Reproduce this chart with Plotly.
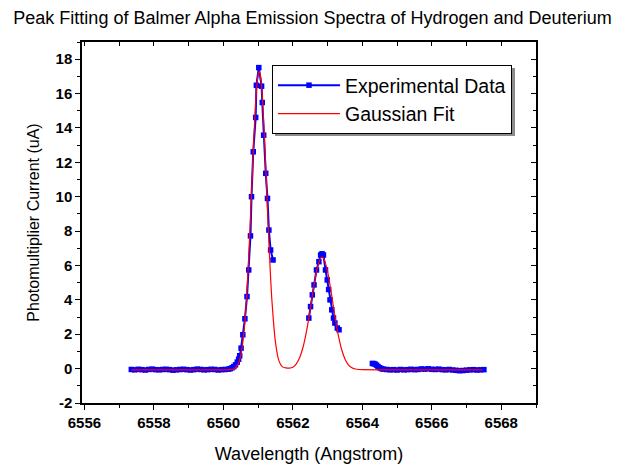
import plotly.graph_objects as go

# ---------------- data ----------------
# Experimental data, three measured segments (gaps between them)
exp_x1 = [6557.35, 6557.45, 6557.55, 6557.65, 6557.75, 6557.85, 6557.95, 6558.05, 6558.15, 6558.25,
          6558.35, 6558.45, 6558.55, 6558.65, 6558.75, 6558.85, 6558.95, 6559.05, 6559.15, 6559.25,
          6559.35, 6559.45, 6559.55, 6559.65, 6559.75, 6559.85, 6559.95, 6560.05, 6560.15,
          6560.20, 6560.25, 6560.30, 6560.35, 6560.40, 6560.44, 6560.47, 6560.51, 6560.56, 6560.62,
          6560.68, 6560.73, 6560.78, 6560.81, 6560.86, 6560.93, 6560.95, 6561.02, 6561.10, 6561.12,
          6561.16, 6561.22, 6561.27, 6561.31, 6561.36, 6561.43]
exp_y1 = [-0.05, -0.07, -0.04, -0.06, -0.08, -0.05, -0.03, -0.06, -0.07, -0.05,
          -0.04, -0.06, -0.09, -0.07, -0.05, -0.04, -0.06, -0.08, -0.06, -0.03,
          -0.05, -0.07, -0.06, -0.04, -0.05, -0.08, -0.06, -0.05, -0.03,
          0.00, 0.05, 0.12, 0.22, 0.38, 0.55, 0.75, 1.19, 1.97, 2.90,
          4.19, 5.74, 7.72, 10.00, 12.61, 14.61, 16.48, 17.51, 16.43, 15.48,
          13.58, 11.36, 9.90, 8.06, 6.90, 6.32]

exp_x2 = [6562.46, 6562.51, 6562.56, 6562.61, 6562.68, 6562.75, 6562.80, 6562.84, 6562.88, 6562.94,
          6562.99, 6563.03, 6563.07, 6563.12, 6563.17, 6563.21, 6563.28, 6563.33]
exp_y2 = [2.94, 3.61, 4.29, 4.87, 5.74, 6.22, 6.61, 6.68, 6.61, 5.74,
          5.16, 4.60, 4.00, 3.42, 2.94, 2.65, 2.36, 2.26]

exp_x3 = [6564.29, 6564.33, 6564.37, 6564.41, 6564.45, 6564.50, 6564.55, 6564.60,
          6564.70, 6564.80, 6564.90, 6565.00, 6565.10, 6565.20, 6565.30, 6565.40, 6565.50, 6565.60,
          6565.70, 6565.80, 6565.90, 6566.00, 6566.10, 6566.20, 6566.30, 6566.40, 6566.50, 6566.60,
          6566.70, 6566.80, 6566.90, 6567.00, 6567.10, 6567.20, 6567.30, 6567.40, 6567.50]
exp_y3 = [0.30, 0.29, 0.26, 0.20, 0.12, 0.05, 0.00, -0.03,
          -0.05, -0.07, -0.06, -0.08, -0.05, -0.07, -0.06, -0.04, -0.06, -0.05,
          -0.02, -0.03, -0.01, -0.04, -0.05, -0.03, -0.06, -0.07, -0.05, -0.08,
          -0.10, -0.12, -0.11, -0.09, -0.07, -0.06, -0.08, -0.07, -0.06]

# Gaussian fit curve
fit_x = [6557.35, 6558.50, 6559.50, 6560.00, 6560.10, 6560.20, 6560.30, 6560.40, 6560.50, 6560.60,
         6560.70, 6560.80, 6560.85, 6560.90, 6560.95, 6561.00, 6561.03, 6561.06, 6561.10, 6561.15,
         6561.20, 6561.25, 6561.30, 6561.35, 6561.40, 6561.50, 6561.60, 6561.70, 6561.80, 6561.90,
         6562.00, 6562.10, 6562.20, 6562.30, 6562.40, 6562.50, 6562.60, 6562.70, 6562.80, 6562.84,
         6562.90, 6563.00, 6563.10, 6563.20, 6563.30, 6563.40, 6563.50, 6563.60, 6563.70, 6563.80,
         6563.90, 6564.00, 6565.00, 6566.00, 6567.46]
fit_y = [-0.07, -0.07, -0.07, -0.07, -0.07, -0.06, -0.02, 0.17, 0.76, 2.28,
         5.27, 9.72, 12.15, 14.38, 16.12, 17.11, 17.28, 17.11, 16.38, 14.78,
         12.62, 10.21, 7.82, 5.66, 3.88, 1.52, 0.45, 0.10, 0.04, 0.03,
         0.08, 0.28, 0.66, 1.30, 2.24, 3.45, 4.74, 5.83, 6.42, 6.48,
         6.35, 5.64, 4.49, 3.19, 2.03, 1.14, 0.56, 0.22, 0.05, -0.02,
         -0.05, -0.06, -0.07, -0.07, -0.07]

x_range = [6555.93, 6569.0]
y_range = [-2, 19]
x_tick_vals = [6556, 6558, 6560, 6562, 6564, 6566, 6568]
x_tick_text = ["6556", "6558", "6560", "6562", "6564", "6566", "6568"]
y_tick_vals = [-2, 0, 2, 4, 6, 8, 10, 12, 14, 16, 18]
y_tick_text = ["-2", "0", "2", "4", "6", "8", "10", "12", "14", "16", "18"]
title_text = "Peak Fitting of Balmer Alpha Emission Spectra of Hydrogen and Deuterium"
x_title = "Wavelength (Angstrom)"
y_title = "Photomultiplier Current (uA)"

# ---------------- figure ----------------
exp_x = exp_x1 + [None] + exp_x2 + [None] + exp_x3
exp_y = exp_y1 + [None] + exp_y2 + [None] + exp_y3

FONT = "Arial, 'Liberation Sans', sans-serif"

fig = go.Figure()
fig.add_trace(go.Scatter(
    x=exp_x, y=exp_y, mode="lines+markers", name="Experimental Data",
    line=dict(color="#0000FF", width=2),
    marker=dict(symbol="square", size=5.5, color="#0000FF"),
    connectgaps=False,
))
fig.add_trace(go.Scatter(
    x=fit_x, y=fit_y, mode="lines", name="Gaussian Fit",
    line=dict(color="#FF0000", width=1.2, shape="spline", smoothing=0.8),
))
# empty trace to register the mirrored (top/right) axes
fig.add_trace(go.Scatter(x=[], y=[], xaxis="x2", yaxis="y2", showlegend=False,
                         hoverinfo="skip"))

tickfont = dict(family=FONT, size=15, color="black", weight="bold")

# plot-area geometry (pixels) used to place the legend and its shadow
L, R, T, B = 82, 536, 42, 403
def px(xp):
    return (xp - L) / (R - L)
def py(yp):
    return (B - yp) / (B - T)

# legend box (pixels) and its drop shadow
LEG_L, LEG_T, LEG_R, LEG_B = 272, 65, 512, 133
SH = 3

fig.update_layout(
    width=625, height=468,
    margin=dict(l=L, r=625 - R, t=T, b=468 - B, autoexpand=False),
    paper_bgcolor="white", plot_bgcolor="white",
    title=dict(text=title_text, x=0.5, xanchor="center", xref="container",
               yref="container", y=1 - 11 / 468, yanchor="top",
               font=dict(family=FONT, size=18, color="black")),
    xaxis=dict(range=x_range, tickmode="array", tickvals=x_tick_vals, ticktext=x_tick_text,
               ticks="outside", ticklen=5, tickwidth=1.3, automargin=False,
               tickcolor="black", showline=True, linecolor="black", linewidth=1.5,
               showgrid=False, zeroline=False, tickfont=tickfont,
               minor=dict(dtick=1, tick0=6556, ticks="outside", ticklen=3, tickwidth=1.3,
                          tickcolor="black", showgrid=False),
               title=dict(text=x_title, font=dict(family=FONT, size=18, color="black"),
                          standoff=18)),
    yaxis=dict(range=y_range, tickmode="array", tickvals=y_tick_vals, ticktext=y_tick_text,
               ticks="outside", ticklen=5, tickwidth=1.3, automargin=False,
               tickcolor="black", showline=True, linecolor="black", linewidth=1.5,
               showgrid=False, zeroline=False, tickfont=tickfont,
               minor=dict(dtick=1, tick0=0, ticks="outside", ticklen=3, tickwidth=1.3,
                          tickcolor="black", showgrid=False),
               title=dict(text=y_title, font=dict(family=FONT, size=16, color="black"),
                          standoff=12)),
    xaxis2=dict(range=x_range, overlaying="x", side="top", anchor="y", dtick=1, tick0=6556,
                ticks="inside", ticklen=4, tickwidth=1.3, tickcolor="black", automargin=False,
                showline=True, linecolor="black", linewidth=1.5, showticklabels=False,
                showgrid=False, zeroline=False),
    yaxis2=dict(range=y_range, overlaying="y", side="right", anchor="x", dtick=2, tick0=0,
                ticks="inside", ticklen=5, tickwidth=1.3, tickcolor="black", automargin=False,
                showline=True, linecolor="black", linewidth=1.5, showticklabels=False,
                showgrid=False, zeroline=False,
                minor=dict(dtick=1, tick0=0, ticks="inside", ticklen=3, tickwidth=1.3,
                           tickcolor="black", showgrid=False)),
    legend=dict(x=px(LEG_L), y=py(LEG_T), xanchor="left", yanchor="top",
                bgcolor="white", bordercolor="black", borderwidth=1,
                font=dict(family=FONT, size=19.5, color="black"),
                tracegroupgap=0, itemwidth=62),
    shapes=[dict(type="rect", xref="paper", yref="paper",
                 x0=px(LEG_L + SH), x1=px(LEG_R + SH), y0=py(LEG_B + SH), y1=py(LEG_T + SH),
                 line=dict(width=0), fillcolor="#8c8c8c", layer="above")],
    showlegend=True,
)

fig.write_html("out.html", config={"displayModeBar": False},
               post_script="document.body.style.margin='0px';")
